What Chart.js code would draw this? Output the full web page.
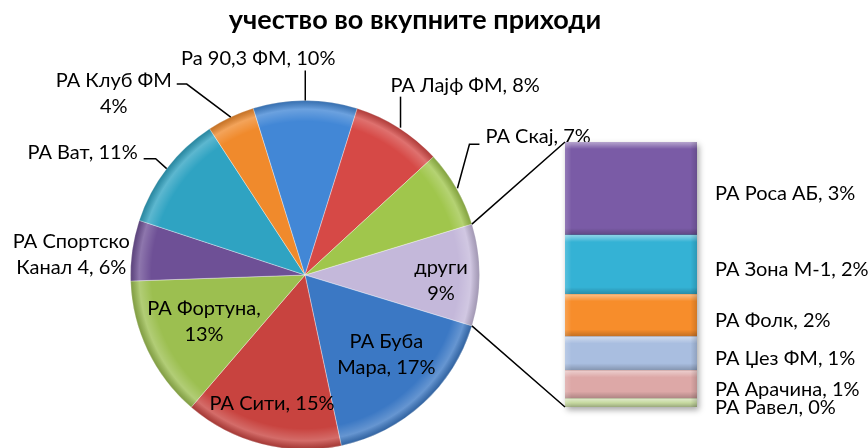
<!DOCTYPE html>
<html>
<head>
<meta charset="utf-8">
<script src="https://cdn.jsdelivr.net/npm/chart.js@4.4.1/dist/chart.umd.min.js"></script>
<style>
  html, body { margin: 0; padding: 0; background: #fff; overflow: hidden; }
  #wrap { position: relative; width: 868px; height: 448px; overflow: hidden; }
  canvas { position: absolute; left: 0; top: 0; }
</style>
</head>
<body>
<div id="wrap">
  <canvas id="pie" width="868" height="460"></canvas>
  <canvas id="bar" width="868" height="460"></canvas>
</div>
<script>
// --- podatoci (udel vo %) ---
const chartTitle = "учество во вкупните приходи";

const pieNames = ["РА Буба Мара", "РА Сити", "РА Фортуна", "РА Спортско Канал 4", "РА Ват",
  "РА Клуб ФМ", "Ра 90,3 ФМ", "РА Лајф ФМ", "РА Скај"];
const pieValues = [16.9, 14.6, 13.1, 5.6, 10.7, 4.4, 9.6, 8.3, 7.1];

const otherName = "други";
const barNames = ["РА Роса АБ", "РА Зона М-1", "РА Фолк", "РА Џез ФМ", "РА Арачина", "РА Равел"];
const barValues = [3.3, 2.1, 1.5, 1.2, 1.0, 0.3];

// --- boi ---
const otherColor = "#C4B8DA";
const pieColors = ["#3B78C4", "#C8433F", "#9CBF50", "#6E5096", "#2FA3C2",
  "#F08A2C", "#4287D6", "#D64946", "#A0C64C"];
const barColors = ["#7A5BA6", "#34B2D5", "#F78D2B", "#A9BEE0", "#DDA8A7", "#C6D9A0"];

const otherTotal = barValues.reduce((a, b) => a + b, 0);
const allNames = [otherName, ...pieNames];
const allValues = [otherTotal, ...pieValues];
const allColors = [otherColor, ...pieColors];
const grandTotal = allValues.reduce((a, b) => a + b, 0);

const FONT = "Lato, 'Open Sans', sans-serif";
const LINE_H = 26;

// raspored na etiketite (po redosled na parcinjata)
// brk = broj zborovi vo prviot red, comma = zapirka pred procentot
const pieLabelLayout = [
  { mode: "in", r: 136, dx: 0, dy: 6, brk: 1, comma: false },            // други
  { mode: "in", r: 113, dx: 5, dy: -4, brk: 2, comma: true },            // Буба
  { mode: "in", r: 133, dx: 0, dy: 0, brk: 0, comma: true },             // Сити
  { mode: "in", r: 112, dx: 0, dy: -2, brk: 2, comma: true },            // Фортуна
  { mode: "out", tx: -61, ty: -9, align: "center", brk: 2, comma: true, leader: [] }, // Спортско
  { mode: "out", tx: -29, ty: -16, align: "right", brk: 0, comma: true,
    leader: [[0, 0], [-11, -10], [-23, -10]] },                           // Ват
  { mode: "out", tx: -117, ty: -37, align: "center", brk: 3, comma: false,
    leader: [[0, 0], [-44, -33], [-54, -33]] },                           // Клуб
  { mode: "out", tx: -47, ty: -42, align: "center", brk: 0, comma: true,
    leader: [[0, 0], [0, -30]] },                                         // 90,3
  { mode: "out", tx: -8, ty: -42, align: "left", brk: 0, comma: true,
    leader: [[2, 0], [2, -31]] },                                         // Лајф
  { mode: "out", tx: 29, ty: -52, align: "left", brk: 0, comma: true,
    leader: [[1, 0], [13, -44], [23, -44]] },                             // Скај
];

function labelLines(name, value, L) {
  const pct = Math.round(value) + "%";
  const words = (name + (L.comma ? "," : "") + " " + pct).split(" ");
  if (!L.brk) return [words.join(" ")];
  return [words.slice(0, L.brk).join(" "), words.slice(L.brk).join(" ")];
}

function drawLines(ctx, lines, x, y, align) {
  ctx.textAlign = align;
  ctx.textBaseline = "middle";
  lines.forEach((t, k) => ctx.fillText(t, x, y + k * LINE_H));
}

// naslov + etiketi na pitata
const pieDecor = {
  id: "pieDecor",
  afterDatasetsDraw(chart) {
    const ctx = chart.ctx;
    const arc0 = chart.getDatasetMeta(0).data[0];
    const { x, y, outerRadius: R } = arc0.getProps(["x", "y", "outerRadius"], true);
    // bevel po rabot
    ctx.save();
    const g = ctx.createRadialGradient(x, y, 0, x, y, R);
    g.addColorStop(0, "rgba(255,255,255,0)");
    g.addColorStop(0.88, "rgba(255,255,255,0)");
    g.addColorStop(0.95, "rgba(255,255,255,0.22)");
    g.addColorStop(1, "rgba(0,0,0,0.18)");
    ctx.fillStyle = g;
    ctx.beginPath();
    ctx.arc(x, y, R, 0, Math.PI * 2);
    ctx.fill();
    ctx.restore();
  },
  afterDraw(chart) {
    const ctx = chart.ctx;
    ctx.save();
    ctx.fillStyle = "#000";
    ctx.font = "bold 27px " + FONT;
    ctx.textAlign = "center";
    ctx.textBaseline = "middle";
    ctx.fillText(chartTitle, 415, 20);

    ctx.font = "20px " + FONT;
    ctx.strokeStyle = "#000";
    ctx.lineWidth = 1.5;
    chart.getDatasetMeta(0).data.forEach((arc, i) => {
      const p = arc.getProps(["x", "y", "startAngle", "endAngle", "outerRadius"], true);
      const mid = (p.startAngle + p.endAngle) / 2;
      const L = pieLabelLayout[i];
      const lines = labelLines(allNames[i], allValues[i], L);
      if (L.mode === "in") {
        const cx = p.x + L.r * Math.cos(mid) + L.dx;
        const cy = p.y + L.r * Math.sin(mid) + L.dy - (lines.length - 1) * LINE_H / 2;
        drawLines(ctx, lines, cx, cy, "center");
      } else {
        const ex = p.x + p.outerRadius * Math.cos(mid);
        const ey = p.y + p.outerRadius * Math.sin(mid);
        if (L.leader.length) {
          ctx.beginPath();
          L.leader.forEach(([dx, dy], k) => {
            if (k === 0) ctx.moveTo(ex + dx, ey + dy); else ctx.lineTo(ex + dx, ey + dy);
          });
          ctx.stroke();
        }
        drawLines(ctx, lines, ex + L.tx, ey + L.ty, L.align);
      }
    });
    ctx.restore();
  }
};

const pieChart = new Chart(document.getElementById("pie").getContext("2d"), {
  type: "pie",
  data: {
    labels: allNames,
    datasets: [{
      data: allValues,
      backgroundColor: allColors,
      borderColor: "rgba(255,255,255,0.35)",
      borderWidth: 1,
      hoverOffset: 0,
    }],
  },
  options: {
    responsive: false,
    animation: false,
    events: [],
    // drugi e centrirano na desnata strana
    rotation: 90 - (otherTotal / grandTotal) * 180,
    layout: { padding: { left: 130, right: 388, top: 100, bottom: 10 } },
    plugins: { legend: { display: false }, tooltip: { enabled: false } },
  },
  plugins: [pieDecor],
});

// stolbot za "други" + povrzuvacki linii
const barDecor = {
  id: "barDecor",
  beforeDatasetsDraw(chart) {
    const a = chart.chartArea;
    const ctx = chart.ctx;
    ctx.save();
    ctx.shadowColor = "rgba(0,0,0,0.35)";
    ctx.shadowBlur = 6;
    ctx.shadowOffsetX = 2;
    ctx.shadowOffsetY = 3;
    ctx.fillStyle = "#fff";
    ctx.fillRect(a.left, a.top, a.right - a.left, a.bottom - a.top);
    ctx.restore();
  },
  afterDatasetsDraw(chart) {
    const ctx = chart.ctx;
    ctx.save();
    chart.data.datasets.forEach((ds, di) => {
      chart.getDatasetMeta(di).data.forEach((el) => {
        const p = el.getProps(["x", "y", "base", "width"], true);
        const top = Math.min(p.y, p.base), bot = Math.max(p.y, p.base);
        const left = p.x - p.width / 2, h = bot - top;
        const e = Math.min(7, h / 2);
        const g = ctx.createLinearGradient(0, top, 0, bot);
        g.addColorStop(0, "rgba(255,255,255,0.45)");
        g.addColorStop(e / h, "rgba(255,255,255,0)");
        g.addColorStop(1 - e / h, "rgba(0,0,0,0)");
        g.addColorStop(1, "rgba(0,0,0,0.22)");
        ctx.fillStyle = g;
        ctx.fillRect(left, top, p.width, h);
        const gx = ctx.createLinearGradient(left, 0, left + p.width, 0);
        gx.addColorStop(0, "rgba(255,255,255,0.18)");
        gx.addColorStop(0.05, "rgba(255,255,255,0)");
        gx.addColorStop(0.95, "rgba(0,0,0,0)");
        gx.addColorStop(1, "rgba(0,0,0,0.15)");
        ctx.fillStyle = gx;
        ctx.fillRect(left, top, p.width, h);
      });
    });
    ctx.restore();
  },
  afterDraw(chart) {
    const ctx = chart.ctx;
    const a = chart.chartArea;
    ctx.save();
    // etiketi desno od stolbot
    ctx.fillStyle = "#000";
    ctx.font = "20px " + FONT;
    ctx.textAlign = "left";
    ctx.textBaseline = "middle";
    chart.data.datasets.forEach((ds, di) => {
      const el = chart.getDatasetMeta(di).data[0];
      const p = el.getProps(["y", "base"], true);
      ctx.fillText(ds.label + ", " + Math.round(ds.data[0]) + "%", a.right + 18, (p.y + p.base) / 2 + 5);
    });
    // linii od pitata do stolbot
    const arc = pieChart.getDatasetMeta(0).data[0];
    const q = arc.getProps(["x", "y", "startAngle", "endAngle", "outerRadius"], true);
    ctx.strokeStyle = "#000";
    ctx.lineWidth = 1.5;
    ctx.beginPath();
    ctx.moveTo(q.x + q.outerRadius * Math.cos(q.startAngle), q.y + q.outerRadius * Math.sin(q.startAngle));
    ctx.lineTo(a.left, a.top);
    ctx.moveTo(q.x + q.outerRadius * Math.cos(q.endAngle), q.y + q.outerRadius * Math.sin(q.endAngle));
    ctx.lineTo(a.left, a.bottom);
    ctx.stroke();
    ctx.restore();
  }
};

// od dolu nagore: Равел ... Роса
const barDatasets = barNames.map((name, i) => ({
  label: name,
  data: [barValues[i]],
  backgroundColor: barColors[i],
  borderWidth: 0,
  barPercentage: 1,
  categoryPercentage: 1,
})).reverse();

const barChart = new Chart(document.getElementById("bar").getContext("2d"), {
  type: "bar",
  data: { labels: [otherName], datasets: barDatasets },
  options: {
    responsive: false,
    animation: false,
    events: [],
    layout: { padding: { left: 565, right: 171, top: 142, bottom: 53 } },
    scales: {
      x: { stacked: true, display: false },
      y: { stacked: true, display: false, min: 0, max: otherTotal },
    },
    plugins: { legend: { display: false }, tooltip: { enabled: false } },
  },
  plugins: [barDecor],
});
</script>
</body>
</html>
